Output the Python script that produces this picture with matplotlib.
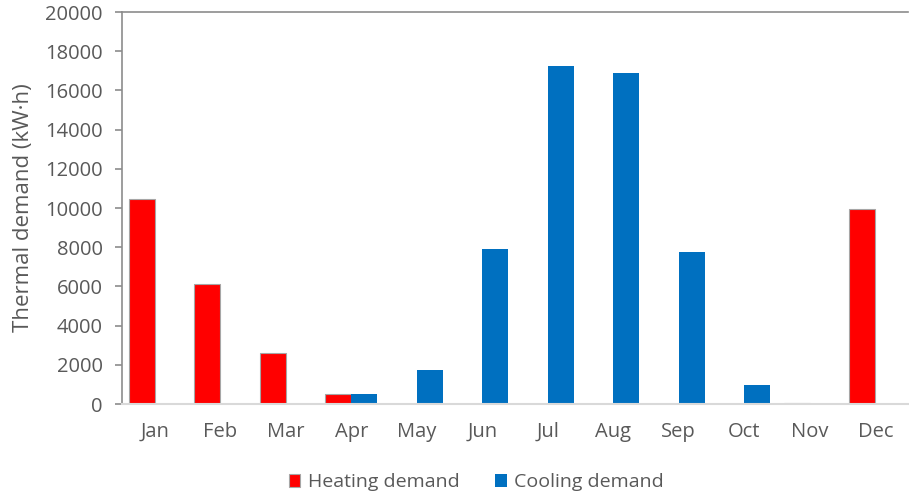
import matplotlib.pyplot as plt
import numpy as np

plt.rcParams['font.family'] = ['Open Sans', 'DejaVu Sans']

months = ['Jan', 'Feb', 'Mar', 'Apr', 'May', 'Jun',
          'Jul', 'Aug', 'Sep', 'Oct', 'Nov', 'Dec']
heating = [10450, 6130, 2600, 510, 0, 0, 0, 0, 0, 0, 30, 9970]
cooling = [0, 0, 40, 510, 1740, 7930, 17240, 16880, 7780, 980, 0, 0]

text_color = '#595959'
x = np.arange(len(months))
w = 0.4

fig = plt.figure(figsize=(9.09, 4.96), dpi=100)
ax = fig.add_axes([122 / 909, 1 - 404 / 496, 786 / 909, 392 / 496])

ax.bar(x - w / 2, heating, w, color='#FF0000', edgecolor='#A6A6A6',
       linewidth=0.8, label='Heating demand')
ax.bar(x + w / 2, cooling, w, color='#0070C0', linewidth=0,
       label='Cooling demand')

ax.set_xlim(-0.5, len(months) - 0.5)
ax.set_ylim(0, 20000)
ax.set_yticks(np.arange(0, 20001, 2000))
ax.set_xticks(x)
ax.set_xticklabels(months)
ax.axhline(20000, color='#8C8C8C', linewidth=1.2, clip_on=False)

for side in ['top', 'right']:
    ax.spines[side].set_visible(False)
ax.spines['left'].set_color('#8C8C8C')
ax.spines['left'].set_linewidth(1.2)
ax.spines['bottom'].set_color('#D9D9D9')
ax.spines['bottom'].set_linewidth(1.5)

ax.tick_params(axis='y', colors='#8C8C8C', labelcolor=text_color,
               labelsize=14.5, length=5, width=1.2, pad=9)
ax.tick_params(axis='x', length=0, labelcolor=text_color, labelsize=14.5, pad=13)
ax.set_ylabel('Thermal demand (kW·h)', color=text_color, fontsize=16, labelpad=8)

ax.legend(loc='center', bbox_to_anchor=(0.451, -0.2), ncol=2,
          frameon=False, fontsize=14, labelcolor=text_color,
          handlelength=0.6, handleheight=0.6, handletextpad=0.4,
          columnspacing=1.8, borderpad=0)

fig.savefig('out.png', dpi=100)
